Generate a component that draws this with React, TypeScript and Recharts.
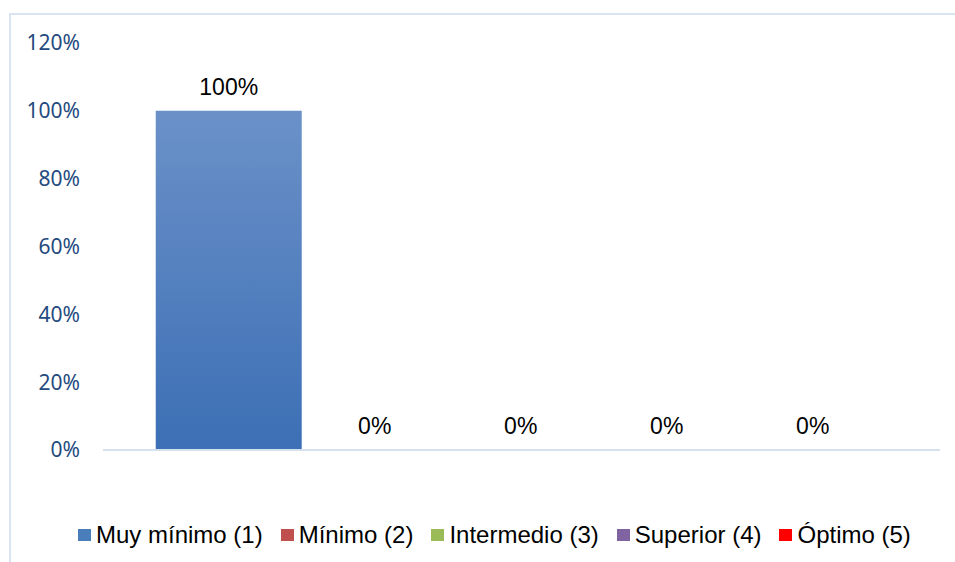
import { Bar, BarChart, LabelList, XAxis, YAxis } from "recharts";

const categories = ["Nivel"];
const seriesNames = [
  "Muy mínimo (1)",
  "Mínimo (2)",
  "Intermedio (3)",
  "Superior (4)",
  "Óptimo (5)",
];
const seriesValues = [1, 0, 0, 0, 0];
const seriesColors = ["#4A7EBB", "#C0504D", "#9BBB59", "#8064A2", "#FF0000"];
const yTicks = [0, 0.2, 0.4, 0.6, 0.8, 1.0, 1.2];

const data = categories.map((name) => {
  const row: Record<string, any> = { name };
  seriesNames.forEach((s, i) => (row[s] = seriesValues[i]));
  return row;
});

const pct = (v: any) => `${Math.round(Number(v) * 100)}%`;

// label drawn above each bar, also for the zero-height ones
const renderLabel = (props: any) => {
  const { x, y, width, height, value } = props;
  const top = Math.min(Number(y), Number(y) + Number(height));
  return (
    <text
      x={Number(x) + Number(width) / 2}
      y={top - 16}
      textAnchor="middle"
      fill="#000"
      fontSize={23}
      fontFamily="Liberation Sans, Arial, sans-serif"
    >
      {pct(value)}
    </text>
  );
};

function LegendContent() {
  return (
    <div
      style={{
        position: "absolute",
        left: 78,
        top: 521,
        display: "flex",
        alignItems: "center",
        fontFamily: "Liberation Sans, Arial, sans-serif",
        fontSize: 24,
        color: "#000",
        whiteSpace: "nowrap",
      }}
    >
      {seriesNames.map((s, i) => (
        <div key={s} style={{ display: "flex", alignItems: "center", marginRight: 18 }}>
          <span
            style={{
              width: 13,
              height: 12,
              background: seriesColors[i],
              display: "inline-block",
              marginRight: 5,
            }}
          />
          <span>{s}</span>
        </div>
      ))}
    </div>
  );
}

export default function App() {
  return (
    <div
      style={{
        position: "absolute",
        left: 0,
        top: 0,
        width: 955,
        height: 562,
        overflow: "hidden",
        background: "#fff",
      }}
    >
      <div
        style={{
          position: "absolute",
          left: 9,
          top: 13,
          width: 960,
          height: 600,
          border: "2px solid #DAE3F2",
          boxSizing: "border-box",
        }}
      />
      <BarChart
        width={955}
        height={562}
        data={data}
        margin={{ top: 43, right: 15, left: 13, bottom: 111 }}
        barCategoryGap="6.3%"
        barGap={0}
        style={{ position: "absolute", left: 0, top: 0 }}
      >
        <defs>
          <linearGradient id="blueGrad" x1="0" y1="0" x2="0" y2="1">
            <stop offset="0%" stopColor="#6B91C8" />
            <stop offset="100%" stopColor="#3C6FB5" />
          </linearGradient>
        </defs>
        <YAxis
          width={90}
          domain={[0, 1.2]}
          ticks={yTicks}
          tickFormatter={pct}
          axisLine={false}
          tickLine={false}
          tickSize={0}
          tickMargin={23}
          tick={{ fill: "#244A7E", fontSize: 21, fontFamily: "Noto Sans, sans-serif" }}
        />
        {seriesNames.map((s, i) => (
          <Bar
            key={s}
            dataKey={s}
            fill={i === 0 ? "url(#blueGrad)" : seriesColors[i]}
            minPointSize={0.01}
            isAnimationActive={false}
          >
            <LabelList dataKey={s} content={renderLabel} />
          </Bar>
        ))}
        <XAxis
          dataKey="name"
          tick={false}
          tickLine={false}
          height={1}
          axisLine={{ stroke: "#D6E1F0", strokeWidth: 2 }}
        />
      </BarChart>
      <LegendContent />
    </div>
  );
}
